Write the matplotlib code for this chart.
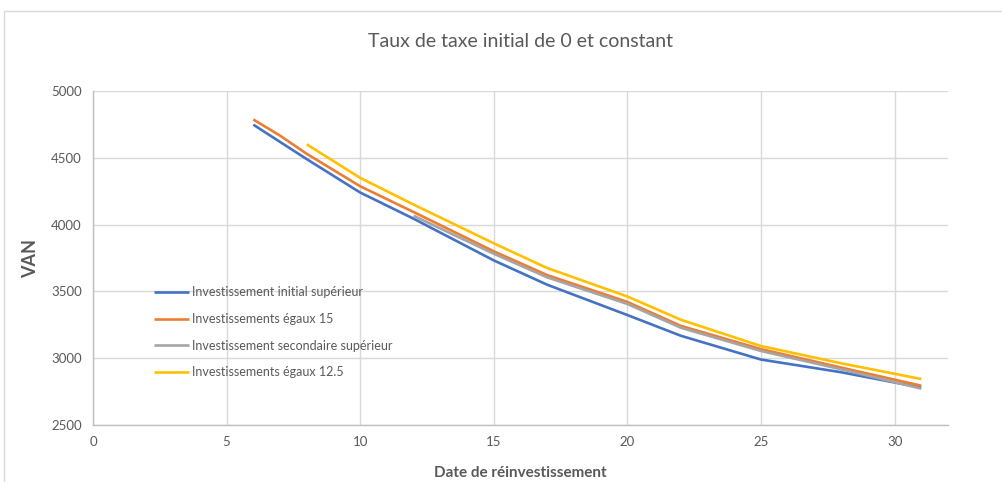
import matplotlib
matplotlib.use('Agg')
import matplotlib.pyplot as plt
from matplotlib.patches import Rectangle

plt.rcParams['font.family'] = ['Lato', 'DejaVu Sans']

# date de reinvestissement / VAN values
x_initial = [6, 8, 10, 12, 15, 17, 20, 22, 25, 28, 31]
van_initial = [4748, 4490, 4240, 4044, 3732, 3550, 3323, 3168, 2990, 2895, 2780]

x_egaux15 = [6, 7, 8, 10, 12, 15, 17, 20, 22, 25, 28, 31]
van_egaux15 = [4787, 4666, 4530, 4287, 4094, 3800, 3622, 3421, 3242, 3068, 2930, 2794]

x_secondaire = [12, 15, 17, 20, 22, 25, 28, 31]
van_secondaire = [4066, 3782, 3605, 3406, 3228, 3054, 2917, 2772]

x_egaux125 = [8, 10, 12, 15, 17, 20, 22, 25, 28, 31]
van_egaux125 = [4601, 4350, 4150, 3860, 3675, 3462, 3288, 3091, 2962, 2844]

labels = ['Investissement initial supérieur', 'Investissements égaux 15',
          'Investissement secondaire supérieur', 'Investissements égaux 12.5']
colors = ['#4472C4', '#ED7D31', '#A5A5A5', '#FFC000']

xticks = [0, 5, 10, 15, 20, 25, 30]
yticks = [2500, 3000, 3500, 4000, 4500, 5000]

text_col = '#595959'
grid_col = '#D9D9D9'

fig = plt.figure(figsize=(10.03, 4.82), dpi=100)
ax = fig.add_axes([93 / 1003, 1 - 425 / 482, 855 / 1003, 334 / 482])

# outer chart border
fig.patches.append(Rectangle((4 / 1003, -0.05), 1.0, 1 - 11 / 482 + 0.05,
                             transform=fig.transFigure, fill=False,
                             edgecolor=grid_col, linewidth=1.0))

series = [(x_initial, van_initial), (x_egaux15, van_egaux15),
          (x_secondaire, van_secondaire), (x_egaux125, van_egaux125)]
for (xs, ys), lab, c in zip(series, labels, colors):
    ax.plot(xs, ys, color=c, linewidth=1.9, label=lab, solid_capstyle='butt')

ax.set_xlim(0, 32)
ax.set_ylim(2500, 5000)
ax.set_xticks(xticks)
ax.set_yticks(yticks)
ax.grid(True, color=grid_col, linewidth=1.0)
ax.set_axisbelow(True)
for s in ['top', 'right']:
    ax.spines[s].set_visible(False)
for s in ['left', 'bottom']:
    ax.spines[s].set_color('#BFBFBF')
    ax.spines[s].set_linewidth(1.0)
ax.tick_params(length=0, colors=text_col, labelsize=9.5, pad=8)

ax.set_title('Taux de taxe initial de 0 et constant', fontsize=14,
             color=text_col, pad=32)
ax.set_xlabel('Date de réinvestissement', fontsize=11, fontweight='bold',
              color=text_col, labelpad=13)
ax.set_ylabel('VAN', fontsize=13, fontweight='bold', color=text_col, labelpad=9)

leg = ax.legend(loc='upper left', bbox_to_anchor=(0.066, 0.43), frameon=False,
                fontsize=9, handlelength=2.8, handletextpad=0.2,
                labelspacing=1.17, borderaxespad=0)
for t in leg.get_texts():
    t.set_color(text_col)

fig.savefig('out.png', dpi=100)
